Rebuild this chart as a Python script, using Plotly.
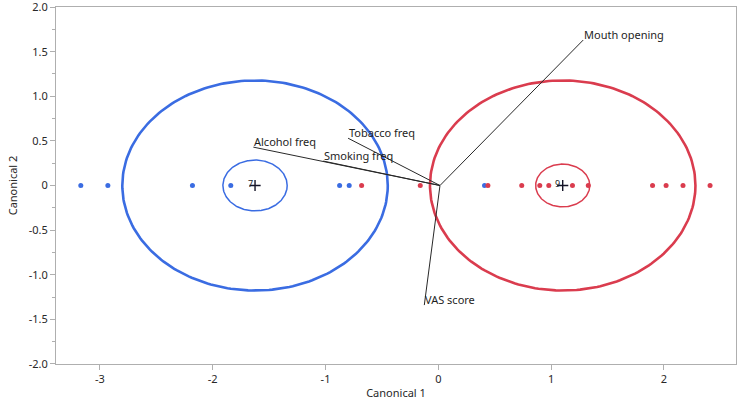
import numpy as np
import plotly.graph_objects as go

# ---- data ----
blue_x = [-3.17, -2.93, -2.18, -1.84, -0.875, -0.79, 0.41]
red_x = [-0.68, -0.16, 0.44, 0.74, 0.90, 0.98, 1.19, 1.33, 1.90, 2.02, 2.17, 2.41]
outer_radius = [1.177, 1.177]          # blue, red
inner_radius = [0.285, 0.24]           # blue, red

ray_labels = ["Mouth opening", "Tobacco freq", "Smoking freq", "Alcohol freq", "VAS score"]
ray_x = [1.285, -0.80, -1.02, -1.64, -0.124]
ray_y = [1.63, 0.53, 0.274, 0.43, -1.34]
ray_origin = [0.015, 0.0]

x_ticks = [-3, -2, -1, 0, 1, 2]
y_ticks = [2.0, 1.5, 1.0, 0.5, 0.0, -0.5, -1.0, -1.5, -2.0]
y_ticktext = ["2.0", "1.5", "1.0", "0.5", "0", "-0.5", "-1.0", "-1.5", "-2.0"]

BLUE = "rgb(58,108,226)"
RED = "rgb(218,60,78)"
FONT = "Noto Sans"

fig = go.Figure()

groups = [(blue_x, BLUE, 0), (red_x, RED, 1)]
theta = np.linspace(0, 2 * np.pi, 241)
for xs, col, i in groups:
    cx = float(np.mean(xs))
    cy = 0.0
    for r, w in ((outer_radius[i], 2.6), (inner_radius[i], 1.5)):
        fig.add_trace(go.Scatter(x=cx + r * np.cos(theta), y=cy + r * np.sin(theta),
                                 mode="lines", line=dict(color=col, width=w),
                                 hoverinfo="skip", showlegend=False))

# points
fig.add_trace(go.Scatter(x=blue_x, y=[0] * len(blue_x), mode="markers",
                         marker=dict(color=BLUE, size=5), showlegend=False))
fig.add_trace(go.Scatter(x=red_x, y=[0] * len(red_x), mode="markers",
                         marker=dict(color=RED, size=5), showlegend=False))

# rays
for lx, ly, lab in zip(ray_x, ray_y, ray_labels):
    fig.add_trace(go.Scatter(x=[ray_origin[0], lx], y=[ray_origin[1], ly], mode="lines",
                             line=dict(color="rgb(40,40,40)", width=1),
                             hoverinfo="skip", showlegend=False))
    fig.add_annotation(x=lx, y=ly, text=lab, showarrow=False, xanchor="left",
                       yanchor="bottom", xshift=-1, yshift=-4,
                       font=dict(family=FONT, size=11, color="rgb(30,30,30)"))

# centroid markers
for xs, col, i in groups:
    cx = float(np.mean(xs))
    fig.add_trace(go.Scatter(x=[cx], y=[0], mode="markers",
                             marker=dict(symbol="cross-thin", size=8,
                                         line=dict(color="rgb(20,20,40)", width=1.4)),
                             showlegend=False))
fig.add_annotation(x=float(np.mean(blue_x)), y=0, text="7", showarrow=False,
                   xshift=-5, yshift=2, font=dict(family=FONT, size=9, color="rgb(30,30,30)"))
fig.add_annotation(x=float(np.mean(red_x)), y=0, text="9", showarrow=False,
                   xshift=-5, yshift=2, font=dict(family=FONT, size=9, color="rgb(30,30,30)"))

axis_common = dict(showgrid=False, zeroline=False, showline=True, mirror=True,
                   linecolor="rgb(175,175,175)", linewidth=1, ticks="outside",
                   tickcolor="rgb(175,175,175)", ticklen=5, automargin=False,
                   tickfont=dict(family=FONT, size=11, color="rgb(40,40,40)"))

fig.update_layout(
    width=750, height=409,
    margin=dict(l=56, r=14, t=7, b=45),
    paper_bgcolor="white", plot_bgcolor="white",
    xaxis=dict(range=[-3.39, 2.64], tickvals=x_ticks, ticktext=[str(v) for v in x_ticks],
               title=dict(text="Canonical 1", standoff=4,
                          font=dict(family=FONT, size=11, color="rgb(40,40,40)")),
               **axis_common),
    yaxis=dict(range=[-2.0005, 2.0005], tickvals=y_ticks, ticktext=y_ticktext,
               ticklabeloverflow="allow",
               minor=dict(ticks="outside", ticklen=3, tickcolor="rgb(175,175,175)", dtick=0.25),
               title=dict(text="Canonical 2", standoff=8,
                          font=dict(family=FONT, size=11, color="rgb(40,40,40)")),
               **axis_common),
)

fig.write_html("out.html")
